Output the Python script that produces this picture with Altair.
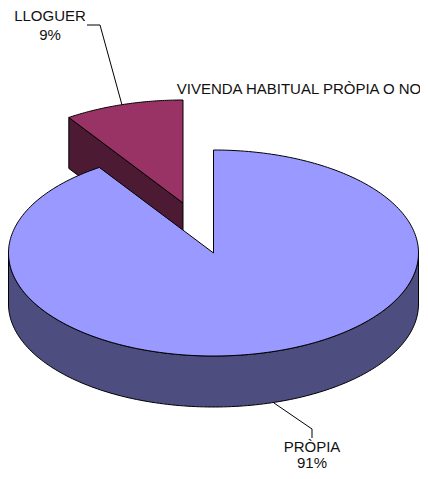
import numpy as np
import pandas as pd
import altair as alt

CATEGORIES = ["PRÒPIA", "LLOGUER"]
SHARES = [90.6, 9.4]
LABELS = ["91%", "9%"]
TITLE = "VIVENDA HABITUAL PRÒPIA O NO"
COLORS = {"big_top": "#9999FF", "big_side": "#4D4D80", "slice_top": "#993366", "slice_side": "#4D1A33"}

CX, CY, RX, RY, DEPTH = 213.5, 253.0, 205.0, 103.0, 51.0
EX, EY = -30.5, -50.0


def arc(t0, t1, cx, cy, dy=0.0, n=160):
    t = np.radians(np.linspace(t0, t1, n))
    return list(zip(cx + RX * np.sin(t), cy - RY * np.cos(t) + dy))


big_deg = 360 * SHARES[0] / 100
c = (CX, CY)
e = (CX + EX, CY + EY)
edge = arc(360 - 360 * SHARES[1] / 100, 360, e[0], e[1], n=2)[0]
shapes = {
    "slice_side": [edge, e, (e[0], e[1] + DEPTH), (edge[0], edge[1] + DEPTH)],
    "slice_top": [e] + arc(-360 * SHARES[1] / 100, 0, e[0], e[1], n=60),
    "big_side": arc(90, 270, CX, CY) + arc(270, 90, CX, CY, DEPTH),
    "big_top": [c] + arc(0, big_deg, CX, CY, n=300),
}

X = alt.Scale(domain=[8, 420], range=[0, 412], nice=False, zero=False)
Y = alt.Scale(domain=[8, 471], range=[0, 463], nice=False, zero=False)


def poly(name):
    pts = shapes[name] + [shapes[name][0]]
    df = pd.DataFrame(pts, columns=["x", "y"]).assign(i=range(len(pts)))
    return alt.Chart(df).mark_line(
        fill=COLORS[name], stroke="black", strokeWidth=1, interpolate="linear", strokeJoin="round"
    ).encode(
        x=alt.X("x:Q", scale=X, axis=None),
        y=alt.Y("y:Q", scale=Y, axis=None),
        order="i:Q",
    )


def leader(pts):
    df = pd.DataFrame(pts, columns=["x", "y"]).assign(i=range(len(pts)))
    return alt.Chart(df).mark_line(stroke="black", strokeWidth=1).encode(
        x=alt.X("x:Q", scale=X, axis=None),
        y=alt.Y("y:Q", scale=Y, axis=None),
        order="i:Q",
    )


text_df = pd.DataFrame(
    [
        {"x": 50, "y": 16, "t": CATEGORIES[1]},
        {"x": 50, "y": 35, "t": LABELS[1]},
        {"x": 312, "y": 447, "t": CATEGORIES[0]},
        {"x": 312, "y": 463, "t": LABELS[0]},
        {"x": 299, "y": 89, "t": TITLE},
    ]
)
text = alt.Chart(text_df).mark_text(
    font="Liberation Sans", fontSize=15, color="#111111", baseline="middle", align="center"
).encode(
    x=alt.X("x:Q", scale=X, axis=None),
    y=alt.Y("y:Q", scale=Y, axis=None),
    text="t:N",
)

chart = alt.layer(
    poly("slice_side"),
    poly("slice_top"),
    poly("big_side"),
    poly("big_top"),
    leader([(87, 25), (100, 25), (122, 105)]),
    leader([(274, 403), (312, 429), (312, 438)]),
    text,
).properties(
    width=412, height=463, padding=0, autosize=alt.AutoSizeParams(type="none"),
).configure_view(stroke=None)

chart.save("out.html", embed_options={"renderer": "svg", "actions": False})
